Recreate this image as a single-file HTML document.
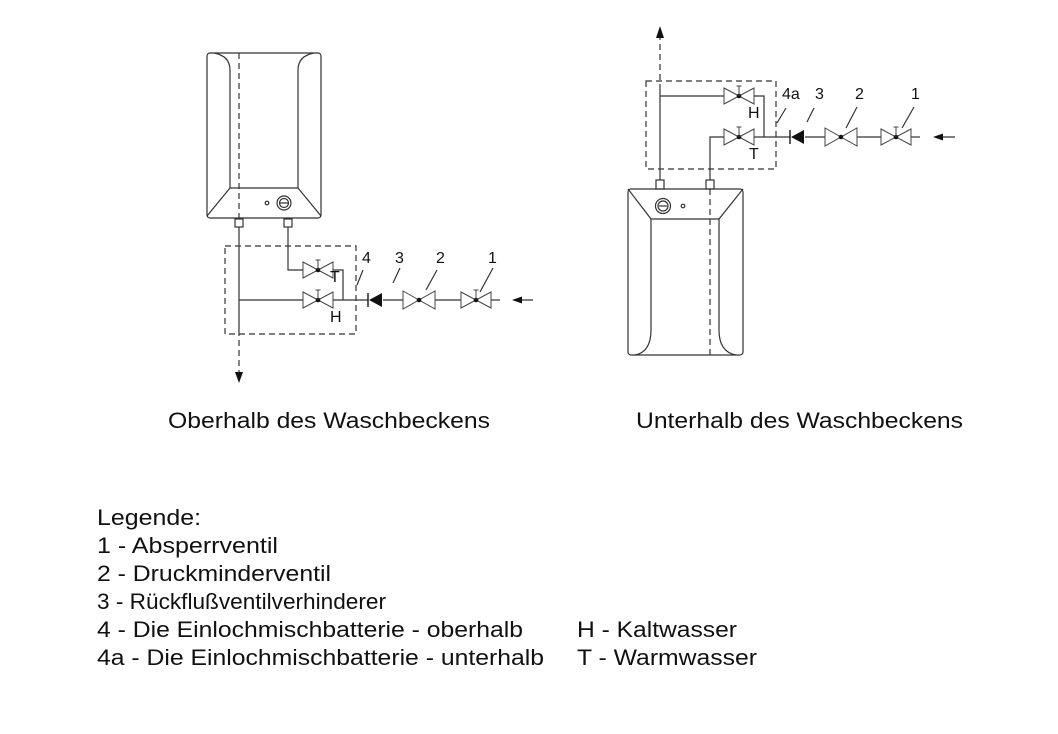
<!DOCTYPE html>
<html><head><meta charset="utf-8"><style>
html,body{margin:0;padding:0;background:#fff;width:1058px;height:734px;overflow:hidden}
svg{display:block}
text{font-family:"Liberation Sans",Arial,sans-serif;fill:#111}
</style></head><body>
<svg width="1058" height="734" viewBox="0 0 1058 734" xmlns="http://www.w3.org/2000/svg">
<defs>
<g id="v">
 <path d="M-15,-8 L15,8 L15,-8 L-15,8 Z" fill="#fff" stroke="#444" stroke-width="1"/>
 <circle r="2.3" fill="#111"/>
 <line x1="0" y1="0" x2="0" y2="-10" stroke="#444" stroke-width="1"/>
 <line x1="-2.5" y1="-10" x2="2.5" y2="-10" stroke="#444" stroke-width="1"/>
</g>
<g id="v2">
 <path d="M-16,-9 L16,9 L16,-9 L-16,9 Z" fill="#fff" stroke="#444" stroke-width="1"/>
 <circle r="2.3" fill="#111"/>
</g>
<g id="chk">
 <line x1="0" y1="-7" x2="0" y2="7" stroke="#222" stroke-width="1.5"/>
 <path d="M1,0 L14,-7 L14,7 Z" fill="#111"/>
</g>
</defs>
<g stroke="#333" stroke-width="1.2" fill="none">
<rect x="207" y="53" width="114" height="165" rx="3"/>
<path d="M214,53 Q230,56 230,70 L230,188 L298,188 L298,70 Q298,56 314,53"/>
<line x1="230" y1="188" x2="207" y2="216"/>
<line x1="298" y1="188" x2="321" y2="216"/>
<circle cx="284" cy="203" r="7"/><circle cx="284" cy="203" r="4.5"/>
<line x1="280" y1="203" x2="288" y2="203"/>
<circle cx="267" cy="203" r="1.8"/>
<rect x="235" y="219" width="8" height="8"/>
<rect x="284" y="219" width="8" height="8"/>
<line x1="239" y1="53" x2="239" y2="218" stroke-dasharray="6,4"/>
<line x1="239" y1="227" x2="239" y2="330"/>
<line x1="239" y1="330" x2="239" y2="372" stroke-dasharray="6,4"/>
<rect x="225" y="246" width="131" height="88" stroke-dasharray="6,4"/>
<polyline points="288,227 288,270 303,270"/>
<polyline points="333,270 343,270 343,300"/>
<line x1="239" y1="300" x2="303" y2="300"/>
<line x1="333" y1="300" x2="368" y2="300"/>
<line x1="383" y1="300" x2="405" y2="300"/>
<line x1="433" y1="300" x2="461" y2="300"/>
<line x1="491" y1="300" x2="500" y2="300"/>
<line x1="515" y1="300" x2="533" y2="300"/>
<line x1="363" y1="270" x2="357" y2="285"/>
<line x1="400" y1="268" x2="393" y2="283"/>
<line x1="437" y1="270" x2="426" y2="290"/>
<line x1="493" y1="268" x2="480" y2="292"/>
<rect x="628" y="189" width="115" height="166" rx="3"/>
<path d="M628,189 L651,219 L651,330 Q651,352 635,355"/>
<path d="M743,189 L719,219 L719,330 Q719,352 736,355"/>
<line x1="651" y1="219" x2="719" y2="219"/>
<circle cx="663" cy="206" r="7.5"/><circle cx="663" cy="206" r="5"/>
<line x1="659" y1="206" x2="667" y2="206"/>
<circle cx="683" cy="206" r="1.8"/>
<rect x="656" y="180" width="8" height="9"/>
<rect x="706" y="180" width="8" height="9"/>
<line x1="710" y1="189" x2="710" y2="355" stroke-dasharray="6,4"/>
<line x1="660" y1="180" x2="660" y2="90"/>
<line x1="660" y1="90" x2="660" y2="38" stroke-dasharray="6,4"/>
<rect x="646" y="81" width="130" height="88" stroke-dasharray="6,4"/>
<polyline points="660,96 724,96"/>
<polyline points="754,96 764,96 764,137"/>
<polyline points="710,180 710,137 724,137"/>
<line x1="754" y1="137" x2="790" y2="137"/>
<line x1="805" y1="137" x2="827" y2="137"/>
<line x1="855" y1="137" x2="881" y2="137"/>
<line x1="911" y1="137" x2="920" y2="137"/>
<line x1="937" y1="137" x2="955" y2="137"/>
<line x1="786" y1="108" x2="777" y2="123"/>
<line x1="814" y1="108" x2="807" y2="122"/>
<line x1="857" y1="107" x2="846" y2="128"/>
<line x1="914" y1="107" x2="902" y2="128"/>
</g>
<path d="M235,372 L243,372 L239,383 Z" fill="#111"/>
<path d="M512,300 L522,296.5 L522,303.5 Z" fill="#111"/>
<path d="M656,38 L664,38 L660,26 Z" fill="#111"/>
<path d="M933,137 L943,133.5 L943,140.5 Z" fill="#111"/>
<use href="#v" x="318" y="270"/>
<use href="#v" x="318" y="300"/>
<use href="#chk" x="368" y="300"/>
<use href="#v2" x="419" y="300"/>
<use href="#v" x="476" y="300"/>
<use href="#v" x="739" y="96"/>
<use href="#v" x="739" y="137"/>
<use href="#chk" x="790" y="137"/>
<use href="#v2" x="841" y="137"/>
<use href="#v" x="896" y="137"/>
<g font-size="16">
<text x="330" y="282">T</text>
<text x="330" y="322">H</text>
<text x="362" y="263">4</text>
<text x="395" y="263">3</text>
<text x="436" y="263">2</text>
<text x="488" y="263">1</text>
<text x="748" y="118">H</text>
<text x="749" y="159">T</text>
<text x="782" y="99">4a</text>
<text x="815" y="99">3</text>
<text x="855" y="99">2</text>
<text x="911" y="99">1</text>
</g>
<g font-size="22">
<text x="168" y="428" textLength="322" lengthAdjust="spacingAndGlyphs">Oberhalb des Waschbeckens</text>
<text x="636" y="428" textLength="327" lengthAdjust="spacingAndGlyphs">Unterhalb des Waschbeckens</text>
<text x="97" y="525" textLength="104" lengthAdjust="spacingAndGlyphs">Legende:</text>
<text x="97" y="553" textLength="181" lengthAdjust="spacingAndGlyphs">1 - Absperrventil</text>
<text x="97" y="581" textLength="234" lengthAdjust="spacingAndGlyphs">2 - Druckminderventil</text>
<text x="97" y="609" textLength="289" lengthAdjust="spacingAndGlyphs">3 - Rückflußventilverhinderer</text>
<text x="97" y="637" textLength="426" lengthAdjust="spacingAndGlyphs">4 - Die Einlochmischbatterie - oberhalb</text>
<text x="97" y="665" textLength="447" lengthAdjust="spacingAndGlyphs">4a - Die Einlochmischbatterie - unterhalb</text>
<text x="577" y="637" textLength="160" lengthAdjust="spacingAndGlyphs">H - Kaltwasser</text>
<text x="577" y="665" textLength="180" lengthAdjust="spacingAndGlyphs">T - Warmwasser</text>
</g>
</svg>
</body></html>
